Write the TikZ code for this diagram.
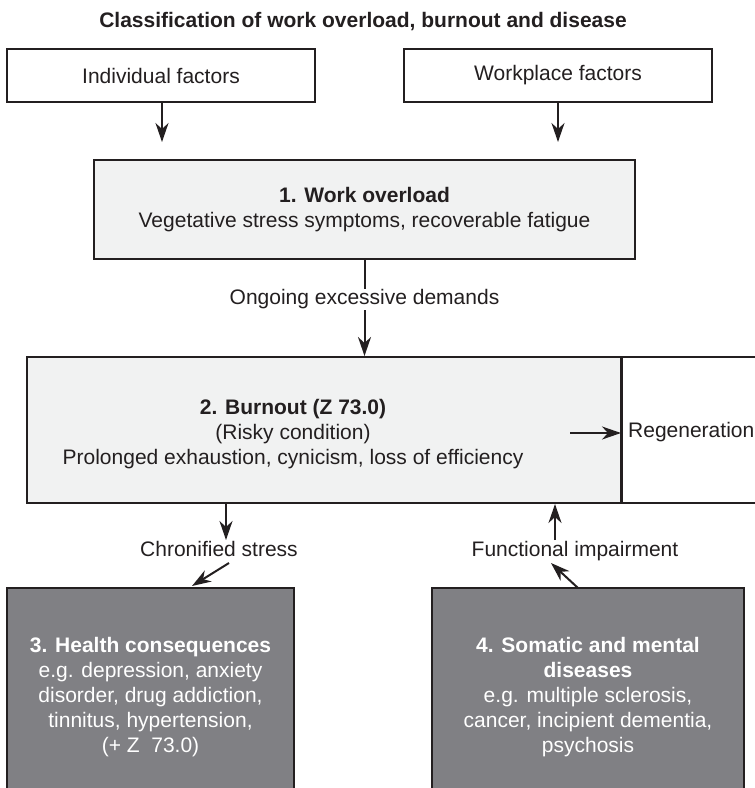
\documentclass[tikz,border=0pt]{standalone}
\usepackage{fontspec}
\setmainfont{Liberation Sans}
\usetikzlibrary{arrows.meta}
\definecolor{ink}{HTML}{231F20}
\definecolor{paleface}{HTML}{F1F2F2}
\definecolor{darkface}{HTML}{808084}
\begin{document}
\begin{tikzpicture}[x=1pt,y=-1pt,
  every node/.style={font=\fontsize{21}{25}\selectfont, text=ink},
  whitebox/.style={draw=ink, line width=2pt, fill=white, inner sep=0pt},
  palebox/.style={draw=ink, line width=2pt, fill=paleface, inner sep=0pt, align=center},
  darkbox/.style={draw=ink, line width=2pt, fill=darkface, inner sep=0pt, align=center, text=white},
  arr/.style={draw=ink, line width=2pt, -{Stealth[length=19pt,width=13pt,inset=6pt]}},
  lbl/.style={inner sep=1pt}
]
\useasboundingbox (0,0) rectangle (755,788);
\clip (0,0) rectangle (755,788);

% heading
\node[font=\fontsize{21}{25}\selectfont\bfseries, anchor=base] (title) at (363,27.5)
  {Classification of work overload, burnout and disease};

% factor boxes
\node[whitebox, minimum width=308pt, minimum height=53pt] (ind) at (161,75.5) {Individual factors};
\node[whitebox, minimum width=308pt, minimum height=53pt] (wp) at (558,75.5) {Workplace factors};

% stage 1
\node[palebox, minimum width=541pt, minimum height=99pt] (wo) at (364.5,209.5)
  {\textbf{1. Work overload}\\Vegetative stress symptoms, recoverable fatigue};

% stage 2 with the regeneration panel beside it
\node[palebox, minimum width=594pt, minimum height=146pt] (bo) at (324,430) {};
\node[whitebox, minimum width=150pt, minimum height=146pt, anchor=west] (rg) at (621,430) {};
\node[align=center] (botext) at (293,434)
  {\textbf{2. Burnout (Z 73.0)}\\(Risky condition)\\Prolonged exhaustion, cynicism, loss of efficiency};
\node[anchor=base west, inner sep=0pt] (rgtext) at (628,437) {Regeneration};

% stages 3 and 4
\node[darkbox, minimum width=287pt, minimum height=218pt] (hc) at (150.5,697)
  {\textbf{3. Health consequences}\\e.g. depression, anxiety\\disorder, drug addiction,\\tinnitus, hypertension,\\(+ Z\ \ 73.0)};
\node[darkbox, minimum width=312pt, minimum height=218pt] (sd) at (588,697)
  {\textbf{4. Somatic and mental}\\\textbf{diseases}\\e.g. multiple sclerosis,\\cancer, incipient dementia,\\psychosis};

% labels between stages 2 and 3/4
\node[lbl] (chron) at (219,549) {Chronified stress};
\node[lbl] (func) at (575,551) {Functional impairment};

% connector end points
\coordinate (indtip) at (162,142);
\coordinate (wptip) at (558,142);
\coordinate (rgstart) at (570,433);
\coordinate (chtip) at (226,540);
\coordinate (chstart) at (229,563);
\coordinate (chend) at (192,586);
\coordinate (fnstart) at (555,540);
\coordinate (fdstart) at (578,588);
\coordinate (fdtip) at (551,563);

% connectors
\draw[arr] (ind.south -| indtip) -- (indtip);
\draw[arr] (wp.south -| wptip) -- (wptip);
\draw[arr] (wo.south) -- node[pos=0.41, fill=white, inner sep=1pt] (ongoing) {Ongoing excessive demands} (wo.south |- bo.north);
\draw[arr] (rgstart) -- (rgstart -| rg.west);
\draw[arr] (bo.south -| chtip) -- (chtip);
\draw[arr] (chstart) -- (chend);
\draw[arr] (fnstart) -- (fnstart |- bo.south);
\draw[arr] (fdstart) -- (fdtip);
\end{tikzpicture}
\end{document}
